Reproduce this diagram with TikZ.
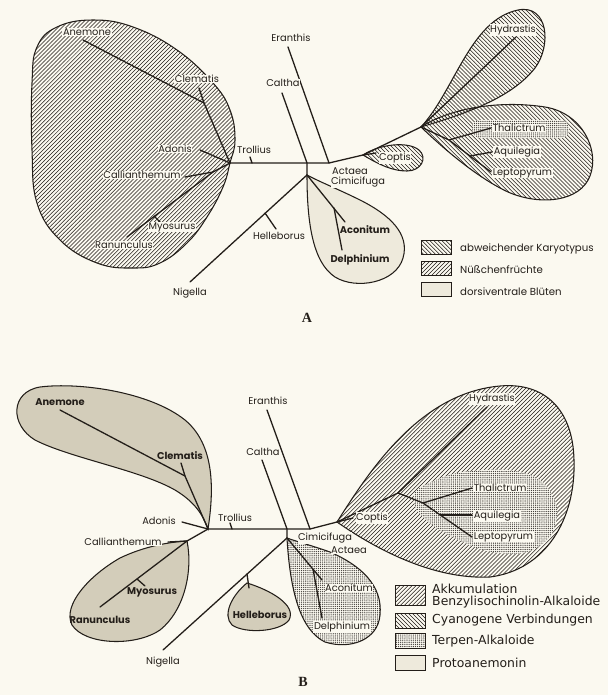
\documentclass[tikz,border=0pt]{standalone}
\usepackage{fontspec}
\usepackage{tikz}
\usetikzlibrary{patterns}
\newfontfamily\labfont{Poppins}
\newfontfamily\keyfont{DejaVu Sans}
\newfontfamily\capfont{Liberation Serif}
\definecolor{paper}{RGB}{251,249,240}
\definecolor{dun}{RGB}{211,205,186}
\definecolor{pale}{RGB}{238,234,220}
\definecolor{ink}{RGB}{35,30,25}
\pgfdeclarepatternformonly{nehatch}{\pgfqpoint{-1pt}{-1pt}}{\pgfqpoint{4.5pt}{4.5pt}}{\pgfqpoint{3.4pt}{3.4pt}}%
  {\pgfsetlinewidth{0.45pt}\pgfpathmoveto{\pgfqpoint{0pt}{0pt}}\pgfpathlineto{\pgfqpoint{3.5pt}{3.5pt}}\pgfusepath{stroke}}
\pgfdeclarepatternformonly{nwhatch}{\pgfqpoint{-1pt}{-1pt}}{\pgfqpoint{4.5pt}{4.5pt}}{\pgfqpoint{3.4pt}{3.4pt}}%
  {\pgfsetlinewidth{0.45pt}\pgfpathmoveto{\pgfqpoint{0pt}{3.4pt}}\pgfpathlineto{\pgfqpoint{3.5pt}{-0.1pt}}\pgfusepath{stroke}}
\pgfdeclarepatternformonly{finedots}{\pgfqpoint{-1pt}{-1pt}}{\pgfqpoint{1pt}{1pt}}{\pgfqpoint{1.8pt}{1.8pt}}%
  {\pgfpathcircle{\pgfqpoint{0pt}{0pt}}{0.58pt}\pgfusepath{fill}}

\begin{document}
\begin{tikzpicture}[
  x=0.3mm, y=-0.3mm,
  tx/.style={font=\labfont\fontsize{8.4}{9}\selectfont, fill=paper, inner sep=0.5pt, text=ink},
  hv/.style={tx, font=\labfont\bfseries\fontsize{8.4}{9}\selectfont, fill=none},
  br/.style={draw=ink, line width=1.1pt, line cap=round, line join=round},
  blob/.style={draw=ink, line width=0.9pt},
  nel/.style={pattern=nehatch, pattern color=ink},
  nwl/.style={pattern=nwhatch, pattern color=ink},
  dots/.style={preaction={fill=paper}, pattern=finedots, pattern color=ink!85},
  keybox/.style={draw=ink, line width=0.8pt, minimum width=9mm, inner sep=0pt},
  keyA/.style={font=\labfont\fontsize{8.7}{9}\selectfont, text=ink, anchor=west, inner sep=0pt},
  keyB/.style={font=\keyfont\fontsize{10.6}{10.6}\selectfont, text=ink, anchor=west, align=left, inner sep=0pt},
  panelcap/.style={font=\capfont\bfseries\fontsize{12}{12}\selectfont, text=ink},
]
\fill[paper] (0,0) rectangle (608,695);
\useasboundingbox (0,0) rectangle (608,695);

% ---------- A
\coordinate (aL) at (230,163);
\coordinate (aC) at (307,163);
\coordinate (aC2) at (307,175);
\coordinate (aE) at (329,163);
\coordinate (aK) at (363,155);
\coordinate (aR) at (421,127);
\coordinate (aAne) at (83,40);
\coordinate (aCj) at (204,103);
\coordinate (aCle) at (199,88);
\coordinate (aAdo) at (200,150);
\coordinate (aTr) at (252,163);
\coordinate (aTrT) at (250,157);
\coordinate (aRj) at (213,172);
\coordinate (aCal) at (185,177);
\coordinate (aRan) at (127,237);
\coordinate (aMyj) at (154,216);
\coordinate (aMyo) at (162,224);
\coordinate (aNig) at (190,282);
\coordinate (aHj) at (265,213);
\coordinate (aHel) at (276,229);
\coordinate (aCalt) at (282,93);
\coordinate (aEra) at (288,47);
\coordinate (aAco) at (345,222);
\coordinate (aDj) at (334,208);
\coordinate (aDel) at (342,250);
\coordinate (aCop) at (376,153);
\coordinate (aHyd) at (516,37);
\coordinate (aTj) at (449,140);
\coordinate (aTha) at (491,128);
\coordinate (aLep) at (491,172);
\coordinate (aAj) at (470,156);
\coordinate (aAqu) at (492,152);

\draw[blob, nel] plot[smooth cycle, tension=0.7] coordinates {(230,163) (223,187) (207,217) (187,243)
  (160,263) (133,268) (97,263) (60,240) (37,203) (32,150) (32,83) (37,47) (57,27) (93,20) (133,27)
  (177,50) (213,83) (230,110) (235,140)};
\draw[blob, nwl] (aR) .. controls (455,90) and (470,20) .. (518,10) .. controls (548,4) and (552,45) .. (535,68)
  .. controls (510,100) and (460,115) .. (aR) -- cycle;
\draw[blob, nwl] (aR) .. controls (450,108) and (500,100) .. (545,107) .. controls (582,113) and (600,150) .. (590,176)
  .. controls (580,202) and (540,206) .. (508,192) .. controls (478,178) and (445,150) .. (aR) -- cycle;
\path[dots, rounded corners=7] (472,120) rectangle (569,138);
\draw[blob, nwl] (aK) .. controls (380,144) and (408,141) .. (419,150) .. controls (428,158) and (421,171) .. (407,171)
  .. controls (390,171) and (375,162) .. (aK) -- cycle;
\draw[blob, fill=pale] (aC2) .. controls (307,220) and (312,262) .. (335,277) .. controls (356,290) and (396,283) .. (403,258)
  .. controls (410,234) and (390,215) .. (360,200) .. controls (340,190) and (320,182) .. (aC2) -- cycle;

\draw[br] (aAne) -- (aCj) -- (aL);
\draw[br] (aCle) -- (aCj);
\draw[br] (aAdo) -- (aL);
\draw[br] (aL) -- (aC) -- (aE) -- (aK) -- (aR);
\draw[br] (aTr) -- (aTrT);
\draw[br] (aL) -- (aRj) -- (aRan);
\draw[br] (aCal) -- (aRj);
\draw[br] (aMyj) -- (aMyo);
\draw[br] (aCalt) -- (aC) -- (aC2);
\draw[br] (aEra) -- (aE);
\draw[br] (aC2) -- (aNig);
\draw[br] (aHj) -- (aHel);
\draw[br] (aC2) -- (aAco);
\draw[br] (aDj) -- (aDel);
\draw[br] (aK) -- (aCop);
\draw[br] (aR) -- (aHyd);
\draw[br] (aR) -- (aTj) -- (aTha);
\draw[br] (aTj) -- (aLep);
\draw[br] (aAj) -- (aAqu);

\node[tx] (aneA) at (87,32) {Anemone};
\node[tx] (cleA) at (197,79) {Clematis};
\node[tx] (adoA) at (175,149) {Adonis};
\node[tx] (troA) at (254,150) {Trollius};
\node[tx] (calA) at (142,175) {Callianthemum};
\node[tx] (myoA) at (172,227) {Myosurus};
\node[tx] (ranA) at (124,245) {Ranunculus};
\node[tx] (helA) at (279,236) {Helleborus};
\node[tx] (nigA) at (190,293) {Nigella};
\node[tx] (eraA) at (291,38) {Eranthis};
\node[tx] (caltA) at (283,83) {Caltha};
\node[tx] (actA) at (350,171) {Actaea};
\node[tx] (cimA) at (358,182) {Cimicifuga};
\node[tx] (copA) at (395,158) {Coptis};
\node[tx] (hydA) at (513,30) {Hydrastis};
\node[tx, anchor=west] (thaA) at (492,128) {Thalictrum};
\node[tx, anchor=west] (aquA) at (493,152) {Aquilegia};
\node[tx, anchor=west] (lepA) at (492,173) {Leptopyrum};
\node[hv] (acoA) at (365,230) {Aconitum};
\node[hv] (delA) at (360,260) {Delphinium};

\node[keybox, nwl, minimum height=4mm] (kA1) at (436.5,247.5) {};
\node[keybox, nel, minimum height=4mm] (kA2) at (436.5,268.5) {};
\node[keybox, fill=pale, minimum height=4mm] (kA3) at (436.5,289.5) {};
\node[keyA] (tA1) at (460,249) {abweichender Karyotypus};
\node[keyA] (tA2) at (460,270) {Nüßchenfrüchte};
\node[keyA] (tA3) at (460,292) {dorsiventrale Blüten};
\node[panelcap] (capA) at (307,318) {A};

% ---------- B
\coordinate (bL) at (208,529);
\coordinate (bC) at (287,529);
\coordinate (bC2) at (287,538);
\coordinate (bE) at (310,529);
\coordinate (bK) at (337,522);
\coordinate (bAne) at (60,410);
\coordinate (bCj) at (185,476);
\coordinate (bCle) at (181,463);
\coordinate (bAdo) at (182,522);
\coordinate (bTr) at (232,529);
\coordinate (bTrT) at (230,523);
\coordinate (bRj) at (187,541);
\coordinate (bCal) at (168,542);
\coordinate (bRan) at (100,607);
\coordinate (bMyj) at (137,579);
\coordinate (bMyo) at (145,586);
\coordinate (bNig) at (163,650);
\coordinate (bHj) at (247,574);
\coordinate (bHel) at (249,588);
\coordinate (bHt) at (247,583);
\coordinate (bCalt) at (262,460);
\coordinate (bEra) at (267,410);
\coordinate (bAco) at (322,580);
\coordinate (bDj) at (313,569);
\coordinate (bDel) at (322,618);
\coordinate (bCop) at (353,518);
\coordinate (bHyj) at (398,493);
\coordinate (bHyd) at (487,407);
\coordinate (bTj) at (423,503);
\coordinate (bTha) at (472,488);
\coordinate (bLep) at (472,537);
\coordinate (bAj) at (440,515);
\coordinate (bAqu) at (472,515);

\draw[blob, fill=dun] (bL) .. controls (214,490) and (215,445) .. (185,420) .. controls (150,392) and (80,382) .. (40,387)
  .. controls (10,392) and (10,425) .. (35,440) .. controls (70,458) and (140,470) .. (175,490)
  .. controls (195,502) and (203,515) .. (bL) -- cycle;
\draw[blob, fill=dun] (bRj) .. controls (193,570) and (185,610) .. (160,630) .. controls (135,647) and (85,645) .. (72,625)
  .. controls (62,605) and (90,575) .. (120,558) .. controls (145,546) and (170,542) .. (bRj) -- cycle;
\draw[blob, fill=dun] (bHt) .. controls (232,595) and (222,615) .. (232,625) .. controls (245,634) and (280,632) .. (289,620)
  .. controls (297,605) and (270,590) .. (bHt) -- cycle;
\draw[blob, dots] (bC2) .. controls (290,590) and (300,630) .. (325,642) .. controls (350,650) and (378,640) .. (380,615)
  .. controls (383,585) and (360,565) .. (330,552) .. controls (310,545) and (295,541) .. (bC2) -- cycle;
\draw[blob, nel] (bK) .. controls (370,470) and (420,393) .. (500,386) .. controls (545,382) and (573,410) .. (574,460)
  .. controls (576,520) and (545,570) .. (490,577) .. controls (430,580) and (370,545) .. (bK) -- cycle;
\path[dots] plot[smooth cycle] coordinates {(417,490) (457,473) (507,470) (540,480) (557,507) (550,537)
  (523,553) (483,550) (440,530) (417,510)};

\draw[br] (bAne) -- (bCj) -- (bL);
\draw[br] (bCle) -- (bCj);
\draw[br] (bAdo) -- (bL);
\draw[br] (bL) -- (bC) -- (bE) -- (bK) -- (bHyj) -- (bHyd);
\draw[br] (bTr) -- (bTrT);
\draw[br] (bL) -- (bRj) -- (bRan);
\draw[br] (bCal) -- (bRj);
\draw[br] (bMyj) -- (bMyo);
\draw[br] (bCalt) -- (bC) -- (bC2);
\draw[br] (bEra) -- (bE);
\draw[br] (bC2) -- (bNig);
\draw[br] (bHj) -- (bHel);
\draw[br] (bC2) -- (bAco);
\draw[br] (bDj) -- (bDel);
\draw[br] (bK) -- (bCop);
\draw[br] (bHyj) -- (bTj) -- (bTha);
\draw[br] (bTj) -- (bLep);
\draw[br] (bAj) -- (bAqu);

\node[hv] (aneB) at (60,402) {Anemone};
\node[hv] (cleB) at (180,456) {Clematis};
\node[tx] (adoB) at (159,521) {Adonis};
\node[tx] (troB) at (235,518) {Trollius};
\node[tx] (calB) at (123,542) {Callianthemum};
\node[hv] (myoB) at (152,592) {Myosurus};
\node[hv] (ranB) at (100,620) {Ranunculus};
\node[hv] (helB) at (260,615) {Helleborus};
\node[tx] (nigB) at (163,662) {Nigella};
\node[tx] (eraB) at (268,401) {Eranthis};
\node[tx] (caltB) at (263,452) {Caltha};
\node[tx] (cimB) at (325,538) {Cimicifuga};
\node[tx] (actB) at (349,550) {Actaea};
\node[tx] (copB) at (372,518) {Coptis};
\node[tx] (acoB) at (349,588) {Aconitum};
\node[tx] (delB) at (342,627) {Delphinium};
\node[tx] (hydB) at (492,399) {Hydrastis};
\node[tx, anchor=west] (thaB) at (473,488) {Thalictrum};
\node[tx, anchor=west] (aquB) at (473,516) {Aquilegia};
\node[tx, anchor=west] (lepB) at (473,537) {Leptopyrum};

\node[keybox, nel, minimum height=6mm] (kB1) at (410,595) {};
\node[keybox, nwl, minimum height=4.5mm] (kB2) at (410,620.5) {};
\node[keybox, dots, minimum height=4.5mm] (kB3) at (410,640.5) {};
\node[keybox, fill=pale, minimum height=4.5mm] (kB4) at (410,662.5) {};
\node[keyB] (tB1) at (432,596) {Akkumulation\\Benzylisochinolin-Alkaloide};
\node[keyB] (tB2) at (432,620) {Cyanogene Verbindungen};
\node[keyB] (tB3) at (432,641) {Terpen-Alkaloide};
\node[keyB] (tB4) at (432,663) {Protoanemonin};
\node[panelcap] (capB) at (303,682) {B};
\end{tikzpicture}
\end{document}
